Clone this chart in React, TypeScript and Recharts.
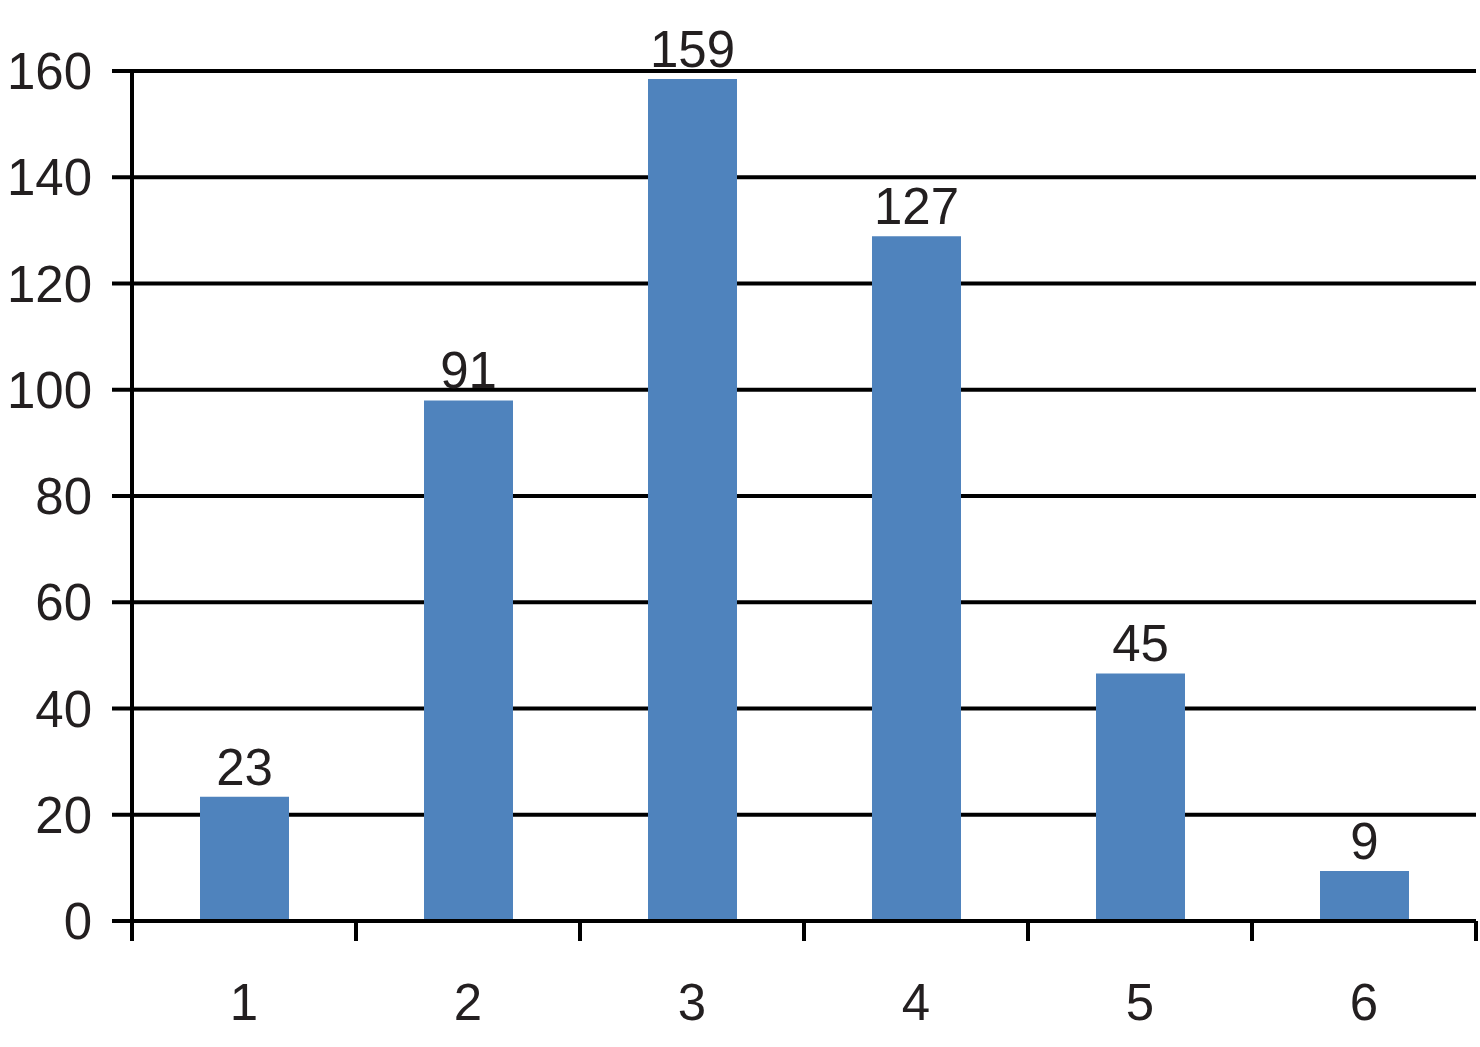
import React from 'react';
import { BarChart, Bar, XAxis, YAxis, CartesianGrid, LabelList } from 'recharts';

const categories = ['1', '2', '3', '4', '5', '6'];
// bar heights as drawn (they do not quite agree with the printed labels)
const barHeights = [23.4, 98, 158.5, 128.9, 46.6, 9.4];
const barLabels = ['23', '91', '159', '127', '45', '9'];
const yTicks = [0, 20, 40, 60, 80, 100, 120, 140, 160];
// category boundaries on a numeric copy of the x axis
const boundaryTicks = [-0.5, 0.5, 1.5, 2.5, 3.5, 4.5, 5.5];

const data = categories.map((c, i) => ({ cat: c, idx: i, value: barHeights[i], label: barLabels[i] }));

const FONT = '"Liberation Sans", Arial, Helvetica, sans-serif';
const TEXT = '#231f20';
const BLUE = '#4f83bd';
const LINE = { stroke: '#000', strokeWidth: 4 };

export default function App() {
  return (
    <div style={{ position: 'absolute', left: 0, top: 0, width: 1480, height: 1047, background: '#fff' }}>
      <BarChart
        width={1480}
        height={1047}
        data={data}
        margin={{ top: 71, right: 4, left: 0, bottom: 17 }}
        style={{ fontFamily: FONT }}
      >
        <CartesianGrid xAxisId="b" horizontal vertical={false} stroke="#000" strokeWidth={4} />
        <XAxis
          xAxisId="a"
          dataKey="idx"
          type="number"
          domain={[-0.5, 5.5]}
          allowDataOverflow
          ticks={boundaryTicks}
          interval={0}
          tickFormatter={() => ''}
          tickSize={20}
          height={1}
          axisLine={LINE}
          tickLine={LINE}
        />
        <XAxis
          xAxisId="b"
          dataKey="cat"
          height={108}
          axisLine={false}
          tickLine={false}
          tickSize={20}
          tickMargin={42}
          tick={{ fill: TEXT, fontSize: 51, fontFamily: FONT }}
        />
        <YAxis
          domain={[0, 160]}
          ticks={yTicks}
          width={132}
          tickSize={20}
          tickMargin={20}
          axisLine={LINE}
          tickLine={LINE}
          tick={{ fill: TEXT, fontSize: 51, fontFamily: FONT }}
        />
        <Bar xAxisId="b" dataKey="value" fill={BLUE} barSize={89} isAnimationActive={false}>
          <LabelList dataKey="label" position="top" offset={12} fill={TEXT} fontSize={51} fontFamily={FONT} />
        </Bar>
      </BarChart>
    </div>
  );
}
